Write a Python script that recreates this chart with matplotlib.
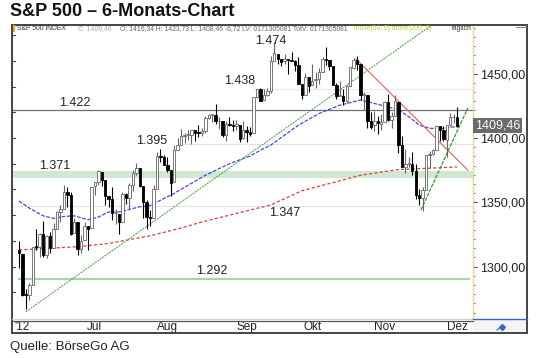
import matplotlib
matplotlib.use("Agg")
import matplotlib.pyplot as plt
from matplotlib.patches import Rectangle
from matplotlib.lines import Line2D
import numpy as np

W, H = 540, 358
plt.rcParams['font.family'] = ['Liberation Sans', 'DejaVu Sans']

# Tageskerzen S&P 500, 31.05.2012 bis 03.12.2012 (Index 0 = 31.05.)
opens = [1313.09, 1309.87, 1278.29, 1277.82, 1285.61, 1316.15, 1314.99, 1325.72, 1309.40, 1324.02,
         1314.88, 1329.19, 1342.42, 1344.83, 1358.04, 1355.43, 1325.92, 1334.90, 1314.09, 1320.71,
         1331.52, 1330.12, 1362.33, 1365.75, 1373.72, 1367.09, 1354.66, 1352.96, 1341.40, 1341.29,
         1334.81, 1356.50, 1353.68, 1363.58, 1373.01, 1376.51, 1362.34, 1350.52, 1338.35, 1338.17,
         1360.05, 1385.94, 1385.27, 1379.32, 1375.13, 1365.45, 1391.04, 1394.46, 1401.23, 1402.26,
         1402.58, 1405.87, 1404.36, 1403.89, 1405.57, 1415.84, 1417.85, 1418.13, 1413.09, 1413.49,
         1401.99, 1411.13, 1410.44, 1409.32, 1410.08, 1400.07, 1406.54, 1404.94, 1403.74, 1432.12,
         1437.92, 1429.13, 1433.56, 1436.56, 1460.07, 1465.42, 1461.19, 1459.50, 1461.05, 1460.34,
         1459.76, 1456.94, 1441.60, 1433.36, 1447.13, 1440.90, 1444.99, 1446.05, 1451.08, 1461.40,
         1460.93, 1455.90, 1441.48, 1432.82, 1432.84, 1428.75, 1440.31, 1454.22, 1460.94, 1457.34,
         1433.21, 1433.74, 1413.20, 1409.74, 1412.97, 1410.99, 1412.20, 1427.59, 1414.02, 1417.26,
         1428.27, 1394.53, 1377.55, 1379.86, 1380.03, 1374.64, 1355.41, 1353.36, 1359.88, 1386.82,
         1387.79, 1391.03, 1409.15, 1406.29, 1398.77, 1409.96, 1416.18, 1416.34]
highs = [1319.74, 1309.87, 1282.55, 1287.62, 1315.13, 1329.05, 1325.81, 1335.52, 1324.31, 1327.28,
         1333.68, 1343.32, 1348.22, 1363.46, 1361.57, 1358.27, 1337.82, 1334.90, 1324.24, 1334.40,
         1331.52, 1362.17, 1365.76, 1374.81, 1373.85, 1367.09, 1354.87, 1361.54, 1345.00, 1341.29,
         1357.70, 1357.26, 1365.36, 1375.26, 1380.39, 1376.51, 1362.34, 1351.53, 1343.98, 1363.13,
         1389.19, 1391.74, 1387.16, 1385.03, 1375.13, 1394.16, 1399.63, 1407.14, 1404.14, 1405.95,
         1405.98, 1405.87, 1410.03, 1407.73, 1417.44, 1418.71, 1418.13, 1426.68, 1416.12, 1413.49,
         1413.46, 1416.17, 1413.63, 1413.95, 1410.08, 1413.09, 1409.31, 1408.81, 1432.12, 1437.92,
         1438.74, 1437.76, 1439.15, 1463.46, 1474.51, 1465.63, 1461.47, 1465.15, 1461.23, 1467.07,
         1460.72, 1463.24, 1441.60, 1450.20, 1447.13, 1457.14, 1451.52, 1454.30, 1463.14, 1470.96,
         1460.93, 1455.90, 1442.52, 1443.90, 1438.43, 1441.31, 1455.51, 1462.20, 1464.02, 1457.34,
         1435.46, 1433.74, 1420.04, 1421.12, 1417.09, 1418.76, 1428.35, 1434.27, 1419.90, 1433.38,
         1428.27, 1401.23, 1391.39, 1384.87, 1388.81, 1380.13, 1360.62, 1362.03, 1386.89, 1389.77,
         1391.25, 1409.16, 1409.15, 1409.01, 1410.31, 1419.70, 1418.86, 1423.73]
lows = [1298.90, 1277.25, 1266.74, 1274.16, 1285.61, 1312.68, 1307.77, 1307.73, 1306.62, 1310.51,
        1314.14, 1329.19, 1334.46, 1344.83, 1346.45, 1324.41, 1325.92, 1309.27, 1310.30, 1320.71,
        1313.29, 1330.12, 1355.87, 1363.53, 1363.02, 1348.03, 1346.65, 1336.27, 1333.25, 1325.41,
        1334.81, 1348.51, 1345.07, 1358.96, 1371.21, 1362.19, 1337.56, 1329.24, 1331.50, 1338.17,
        1360.05, 1381.37, 1379.17, 1373.35, 1354.65, 1365.45, 1391.04, 1394.46, 1396.13, 1398.80,
        1395.62, 1397.32, 1400.60, 1401.83, 1404.15, 1414.67, 1412.12, 1410.86, 1406.78, 1400.50,
        1398.04, 1409.11, 1405.59, 1406.57, 1397.01, 1398.96, 1396.56, 1401.25, 1403.74, 1431.45,
        1428.98, 1429.13, 1432.99, 1435.34, 1460.07, 1457.55, 1456.13, 1457.88, 1449.98, 1459.51,
        1452.06, 1441.59, 1430.53, 1433.36, 1435.60, 1440.90, 1439.01, 1441.99, 1451.08, 1456.89,
        1453.10, 1441.18, 1430.64, 1432.82, 1425.53, 1427.24, 1440.31, 1453.35, 1452.63, 1429.85,
        1422.06, 1407.56, 1407.10, 1405.14, 1403.28, 1405.95, 1412.20, 1412.91, 1408.13, 1417.26,
        1388.14, 1377.51, 1373.03, 1377.19, 1371.39, 1352.50, 1348.05, 1343.35, 1359.88, 1377.04,
        1386.39, 1391.03, 1398.03, 1397.68, 1385.43, 1409.04, 1411.63, 1408.46]
closes = [1310.33, 1278.04, 1278.18, 1285.50, 1315.13, 1314.99, 1325.66, 1308.93, 1324.18, 1314.88,
          1329.10, 1342.84, 1344.78, 1357.98, 1355.69, 1325.51, 1335.02, 1313.72, 1319.99, 1331.85,
          1329.04, 1362.16, 1365.51, 1374.02, 1367.58, 1354.68, 1352.46, 1341.47, 1341.45, 1334.76,
          1356.78, 1353.64, 1363.67, 1372.78, 1376.51, 1362.66, 1350.52, 1338.31, 1337.89, 1360.02,
          1385.97, 1385.30, 1379.32, 1375.32, 1365.00, 1390.99, 1394.23, 1401.35, 1402.22, 1402.80,
          1405.87, 1404.11, 1403.93, 1405.53, 1415.51, 1418.16, 1418.13, 1413.17, 1413.49, 1402.08,
          1411.13, 1410.44, 1409.30, 1410.49, 1399.48, 1406.58, 1404.94, 1403.44, 1432.12, 1437.92,
          1429.08, 1433.56, 1436.56, 1459.99, 1465.77, 1461.19, 1459.32, 1461.05, 1460.26, 1460.15,
          1456.89, 1441.59, 1433.32, 1447.15, 1440.67, 1444.49, 1445.75, 1450.99, 1461.40, 1460.93,
          1455.88, 1441.48, 1432.56, 1432.84, 1428.59, 1440.13, 1454.92, 1460.91, 1457.34, 1433.19,
          1433.82, 1413.11, 1408.75, 1412.97, 1411.94, 1412.16, 1427.59, 1414.20, 1417.26, 1428.39,
          1394.53, 1377.51, 1379.85, 1380.03, 1374.53, 1355.49, 1353.33, 1359.88, 1386.89, 1387.81,
          1391.03, 1409.15, 1406.29, 1398.94, 1409.93, 1415.95, 1416.18, 1409.46]

# gleitende Durchschnitte (Kerzen-Index, Wert)
ma50_idx = [0, 3, 7, 10, 13, 16, 20, 23, 26, 29, 32, 35, 38, 45, 54, 61, 67, 70, 73, 81,
            87, 93, 99, 105, 110, 113, 116, 119, 123, 127]
ma50_val = [1351, 1345.5, 1339.5, 1337.5, 1339, 1339.5, 1336.5, 1338.5, 1342.5, 1342.5,
            1344.5, 1346.5, 1347.5, 1357, 1371, 1380, 1386, 1390.5, 1394.5, 1410,
            1419, 1425.5, 1429.5, 1425.5, 1422, 1416.5, 1410, 1407.5, 1407.5, 1409]
ma200_idx = [0, 7, 17, 26, 32, 38, 47, 52, 64, 73, 82, 92, 99, 105, 110, 119, 127]
ma200_val = [1313, 1314, 1315.5, 1318, 1321, 1324, 1330, 1334, 1342, 1348, 1359, 1366,
             1371, 1373.5, 1375.5, 1376.5, 1377.5]

# Trendlinien (Index, Kurs)
trend_up_long = ([2, 119.5], [1265, 1487.5])
trend_up_short = ([116.5, 130.1], [1344, 1423.3])
trend_down = ([97.7, 130.1], [1461.4, 1375])

# Marken
levels = ["1.474", "1.438", "1.422", "1.395", "1.371", "1.347", "1.292"]
level_val = [1474, 1438, 1422, 1395, 1371, 1347, 1292]

month_labels = ["'12", "Jul", "Aug", "Sep", "Okt", "Nov", "Dez"]
month_idx = [1, 22, 43, 66, 85, 106, 127]

price_ticks = [1300, 1350, 1400, 1450]
last_close = closes[-1]


def fx(px):
    return px / W


def fy(py):
    return 1 - py / H


fig = plt.figure(figsize=(W / 100, H / 100), dpi=100)
fig.patch.set_facecolor('white')

ax = fig.add_axes([fx(12), fy(318), fx(461), 293 / H])
ax.set_xlim(-2.03, 131.6)
ax.set_ylim(1260.1, 1487.8)
ax.set_facecolor('white')
for s in ['top', 'bottom', 'left']:
    ax.spines[s].set_visible(False)
ax.spines['right'].set_color('#f2d48a')
ax.spines['right'].set_linewidth(1.0)

# horizontale Marken
ax.axhspan(1369, 1374, color='#cfe8cf', lw=0, zorder=1)
ax.axhline(1422, color='#707070', lw=0.9, zorder=2)
ax.plot([0, 130.5], [1290.5, 1290.5], color='#a9d3a9', lw=1.6, zorder=1)
ax.axhline(1347, color='#e4e4e4', lw=0.8, zorder=1)
ax.plot([46, 131.6], [1395, 1395], color='#e4e4e4', lw=0.8, zorder=1)
ax.plot([68, 131.6], [1438, 1438], color='#e8e8e8', lw=0.8, zorder=1)

# gleitende Durchschnitte
ax.plot(ma50_idx, ma50_val, color='#4a4ad8', lw=0.9, dashes=(3, 1.2), zorder=3)
ax.plot(ma200_idx, ma200_val, color='#e03a3a', lw=0.9, dashes=(2.5, 1.8), zorder=3)

# Trendlinien
ax.plot(*trend_up_long, color='#3c9c3c', lw=0.7, dashes=(2, 1), zorder=3)
ax.plot(*trend_up_short, color='#2f9a2f', lw=0.9, dashes=(3, 1), zorder=3)
ax.plot(*trend_down, color='#e06060', lw=0.8, zorder=3)

# Kerzen
x = np.arange(len(closes))
o = np.array(opens)
c = np.array(closes)
up = c >= o
wick_col = np.where(up, '#666666', '#000000')
ax.vlines(x, lows, highs, colors=wick_col, lw=0.8, zorder=4)
body_low = np.minimum(o, c)
body_h = np.maximum(np.abs(c - o), 0.4)
ax.bar(x[up], body_h[up], bottom=body_low[up], width=0.7, color='white',
       edgecolor='#666666', linewidth=0.6, zorder=5)
ax.bar(x[~up], body_h[~up], bottom=body_low[~up], width=0.7, color='#000000',
       edgecolor='#000000', linewidth=0.6, zorder=5)

# Beschriftungen der Marken
label_pos = [(73, 1475.5), (64, 1444), (16.2, 1427.5), (38.3, 1398), (10.4, 1378.5),
             (77.1, 1341.5), (55.9, 1296.5)]
for txt, (lx, ly) in zip(levels, label_pos):
    ax.text(lx, ly, txt, ha='center', va='center', fontsize=9, color='#222222', zorder=6)

# rechte Achse
ax.yaxis.tick_right()
ax.set_yticks(price_ticks)
ax.set_yticklabels([f"{p:.2f}".replace('.', ',') for p in price_ticks])
ax.set_yticks([1300 + k * 50 / 7 for k in range(-5, 27)], minor=True)
ax.tick_params(axis='y', which='major', length=3, width=0.8, color='#444444',
               labelsize=9, labelcolor='#222222', pad=2)
ax.tick_params(axis='y', which='minor', length=1.5, width=0.7, color='#666666')
ax.set_xticks([])

# linke Ticks
ytr = ax.get_yaxis_transform()
for lv in range(1280, 1490, 20):
    ax.plot([0, 0.007], [lv, lv], color='#444444', lw=0.8, transform=ytr, clip_on=False)

# Schlusskurs-Box
ax.text(1.004, last_close, f"{last_close:.2f}".replace('.', ','), transform=ytr,
        ha='left', va='center', fontsize=9, color='white',
        bbox=dict(boxstyle='square,pad=0.12', fc='#6a6a6a', ec='none'), zorder=7)

# Monatsachse
xtr = ax.get_xaxis_transform()
for lbl, mi in zip(month_labels, month_idx):
    ax.text(mi, -0.03, lbl, transform=xtr, ha='center', va='center', fontsize=8.5,
            color='#222222', clip_on=False)

fig.add_artist(Line2D([fx(12), fx(473)], [fy(318.5), fy(318.5)], color='#cfcfcf', lw=0.8))
fig.add_artist(Line2D([fx(12), fx(473)], [fy(320.5), fy(320.5)], color='#555555', lw=0.9))
fig.add_artist(Line2D([fx(473), fx(527)], [fy(319), fy(319)], color='#3a64c8', lw=1.0))
fig.add_artist(Rectangle((fx(473), fy(333)), fx(54), 14 / H, fc='#f4f4f4', ec='none', zorder=0))
fig.add_artist(Line2D([fx(497), fx(502)], [fy(330), fy(325.5)], color='#3a64c8', lw=0.8))
fig.add_artist(Line2D([fx(502)], [fy(327)], marker='D', ms=3, color='#3a64c8'))

# Rahmen
fig.add_artist(Rectangle((fx(12), fy(333)), fx(515), 308 / H, fc='none', ec='#444444', lw=1.4))
fig.add_artist(Rectangle((fx(12.5), fy(32)), fx(2), 7 / H, fc='#f0a030', ec='none'))
fig.add_artist(Line2D([fx(516), fx(526)], [fy(27), fy(27)], color='#888888', lw=0.8))

# Kopfzeile
hy = fy(28.5)
hs = 4.9
fig.text(fx(17), hy, "S&P 500 INDEX", fontsize=hs, color='#333333', va='center')
fig.text(fx(78), hy, "C: 1409,46", fontsize=hs, color='#aaaaaa', va='center')
fig.text(fx(120), hy, "O: 1416,34 H: 1423,73 L: 1408,46 -6,72 LV: 0171305081 TotV: 0171305081",
         fontsize=hs, color='#666666', va='center')
fig.text(fx(354), hy, "move(50, 0) move(200, 0)", fontsize=hs, color='#c8c838', va='center')
fig.text(fx(452), hy, "täglich", fontsize=hs, color='#333333', va='center')

fig.text(fx(10), fy(11), "S&P 500 – 6-Monats-Chart", fontsize=13, fontweight='bold',
         va='center', color='#111111')
fig.text(fx(10), fy(347), "Quelle: BörseGo AG", fontsize=9.5,
         va='center', color='#222222')

fig.savefig("out.png", dpi=100)
